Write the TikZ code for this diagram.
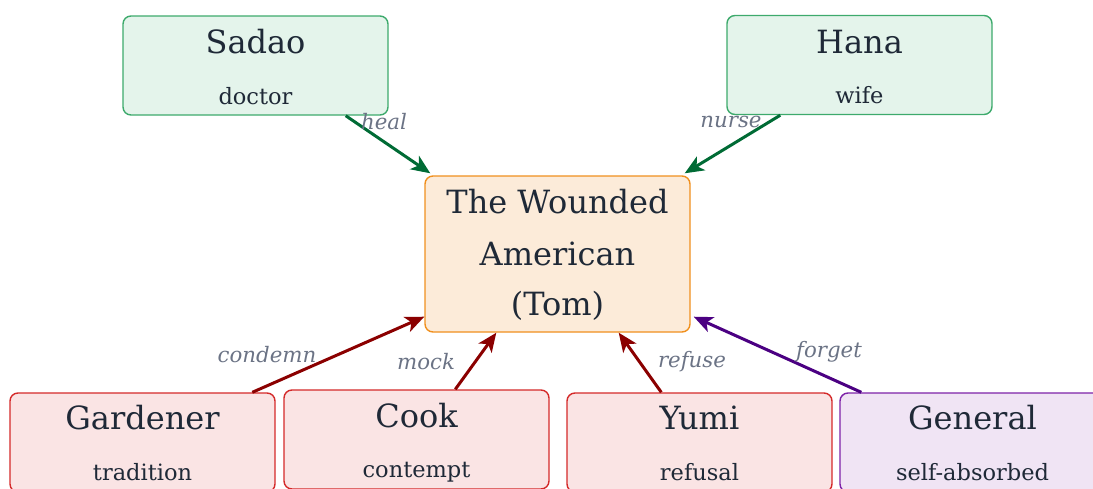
\documentclass[tikz,border=0pt]{standalone}
\usepackage{fontspec}
\setmainfont{DejaVu Serif}
\usetikzlibrary{arrows.meta,calc}
\definecolor{ink}{HTML}{1F2937}
\definecolor{lbl}{HTML}{6B7385}
\definecolor{gfill}{HTML}{E4F4EB}
\definecolor{gline}{HTML}{3DAA6C}
\definecolor{garrow}{HTML}{006B35}
\definecolor{ofill}{HTML}{FCEBD9}
\definecolor{oline}{HTML}{F0901E}
\definecolor{rfill}{HTML}{FAE4E4}
\definecolor{rline}{HTML}{D42A2A}
\definecolor{rarrow}{HTML}{8B0000}
\definecolor{pfill}{HTML}{F0E4F4}
\definecolor{pline}{HTML}{7D22A8}
\definecolor{parrow}{HTML}{4B0082}
\tikzset{
  box/.style={draw, rounded corners=8pt, line width=1.4pt, minimum width=265pt, minimum height=99pt, inner sep=0pt},
  goodbox/.style={box, fill=gfill, draw=gline},
  hostbox/.style={box, fill=rfill, draw=rline},
  selfbox/.style={box, fill=pfill, draw=pline},
  centerbox/.style={box, fill=ofill, draw=oline, minimum height=156pt},
  nametext/.style={anchor=base, text=ink, font=\fontsize{32}{38}\selectfont, inner sep=0pt},
  roletext/.style={anchor=base, text=ink, font=\fontsize{22.5}{27}\selectfont, inner sep=0pt},
  verbtext/.style={text=lbl, font=\itshape\fontsize{21.3}{25}\selectfont, inner sep=0pt},
  link/.style={line width=3pt, -{Stealth[length=19pt,width=16pt,inset=5pt]}},
}
\begin{document}
\begin{tikzpicture}[x=1pt,y=-1pt]
\useasboundingbox (0,0) rectangle (1093,488);

% boxes
\node[goodbox] (sadao) at (255.5,65.5) {};
\node[goodbox] (hana) at (859.5,65) {};
\node[centerbox] (tom) at (557.5,254) {};
\node[hostbox] (gardener) at (142.5,442.5) {};
\node[hostbox] (cook) at (416.5,439.5) {};
\node[hostbox] (yumi) at (699.5,442.5) {};
\node[selfbox] (general) at (972.5,442.5) {};

% texts inside the boxes
\node[nametext] (sadaoN) at (255.5,53) {Sadao};
\node[roletext] (sadaoR) at (255.5,104) {doctor};
\node[nametext] (hanaN) at (859.5,53) {Hana};
\node[roletext] (hanaR) at (859.5,103) {wife};
\node[nametext] (tom1) at (557.5,213) {The Wounded};
\node[nametext] (tom2) at (557.5,265) {American};
\node[nametext] (tom3) at (557.5,315) {(Tom)};
\node[nametext] (gardenerN) at (142.5,429) {Gardener};
\node[roletext] (gardenerR) at (142.5,480) {tradition};
\node[nametext] (cookN) at (416.5,427) {Cook};
\node[roletext] (cookR) at (416.5,477) {contempt};
\node[nametext] (yumiN) at (699.5,429) {Yumi};
\node[roletext] (yumiR) at (699.5,480) {refusal};
\node[nametext] (generalN) at (972.5,429) {General};
\node[roletext] (generalR) at (972.5,480) {self-absorbed};

% connectors
\draw[link, garrow] ($(sadao.south east)+(-43,0)$) -- ($(tom.north west)+(6,-2)$);
\draw[link, garrow] ($(hana.south west)+(54,0)$) -- ($(tom.north east)+(-6,-2)$);
\draw[link, rarrow] ($(gardener.north west)+(243,0)$) -- ($(tom.south west)+(0,-16)$);
\draw[link, rarrow] ($(cook.north west)+(172,0)$) -- ($(tom.south west)+(72,0)$);
\draw[link, rarrow] ($(yumi.north west)+(95,0)$) -- ($(tom.south east)+(-72,0)$);
\draw[link, parrow] ($(general.north west)+(22,0)$) -- ($(tom.south east)+(3,-16)$);

% connector labels
\node[verbtext] (heal) at (384,122) {heal};
\node[verbtext] (nurse) at (731,122) {nurse};
\node[verbtext] (condemn) at (267,355) {condemn};
\node[verbtext] (mock) at (426,362) {mock};
\node[verbtext] (refuse) at (692,362) {refuse};
\node[verbtext] (forget) at (829,352) {forget};
\end{tikzpicture}
\end{document}
